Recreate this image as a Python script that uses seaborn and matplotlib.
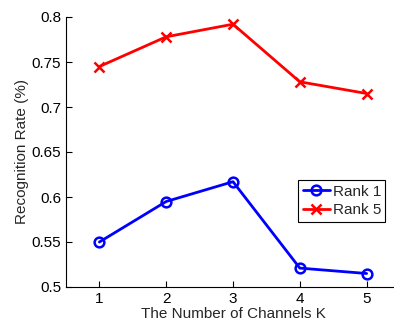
import numpy as np
import pandas as pd
import matplotlib
matplotlib.use("Agg")
import matplotlib.pyplot as plt
import seaborn as sns

# data
channels = [1, 2, 3, 4, 5]
rank1 = [0.550, 0.595, 0.617, 0.521, 0.515]
rank5 = [0.745, 0.778, 0.792, 0.728, 0.715]

sns.set_style("ticks")
plt.rcParams['font.family'] = ['Liberation Sans', 'DejaVu Sans']

fig = plt.figure(figsize=(3.94, 3.22), dpi=100)
ax = fig.add_axes([66/394, 35/322, 334/394, 270/322])

sns.lineplot(x=channels, y=rank1, ax=ax, color="blue", marker="o", markersize=7,
             markerfacecolor="none", markeredgecolor="blue", markeredgewidth=1.8,
             linewidth=2, label="Rank 1")
sns.lineplot(x=channels, y=rank5, ax=ax, color="red", marker="x", markersize=7,
             markeredgecolor="red", markeredgewidth=1.8, linewidth=2, label="Rank 5")

ax.set_xlim(0.5, 5.5)
ax.set_ylim(0.5, 0.8)
ax.set_xticks(channels)
ax.set_yticks([0.5, 0.55, 0.6, 0.65, 0.7, 0.75, 0.8])
ax.set_yticklabels(["0.5", "0.55", "0.6", "0.65", "0.7", "0.75", "0.8"])
ax.tick_params(direction="in", labelsize=11, length=4, width=0.8, colors="black")
ax.set_xlabel("The Number of Channels K", fontsize=11, labelpad=1)
ax.set_ylabel("Recognition Rate (%)", fontsize=11, labelpad=2)
sns.despine(ax=ax)
for s in ["left", "bottom"]:
    ax.spines[s].set_linewidth(0.8)
    ax.spines[s].set_color("black")

leg = ax.legend(loc="upper left", bbox_to_anchor=(0.695, 0.396), fontsize=11,
                frameon=True, fancybox=False, framealpha=1, edgecolor="black",
                handlelength=1.8, handletextpad=0.15, borderpad=0.3,
                labelspacing=0.3, borderaxespad=0)
leg.get_frame().set_linewidth(0.8)

fig.savefig("out.png", dpi=100)
